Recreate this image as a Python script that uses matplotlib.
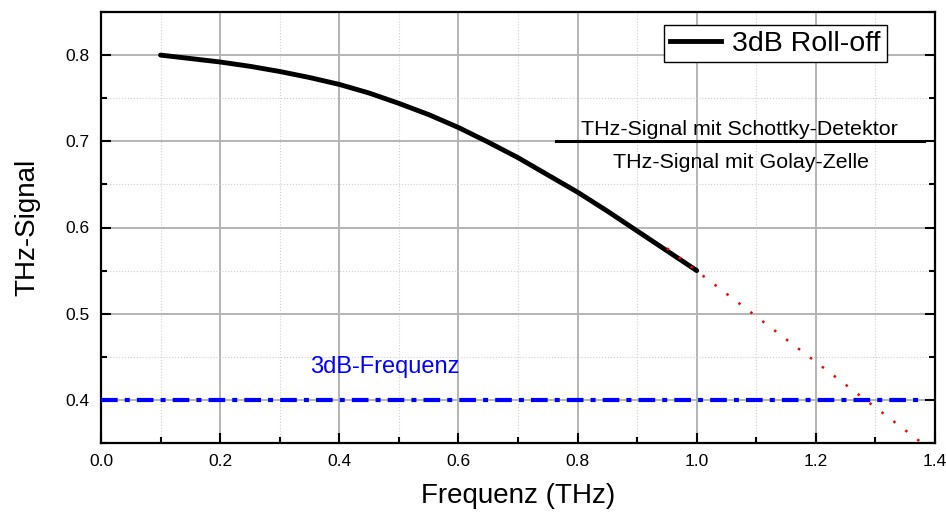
import matplotlib
matplotlib.use("Agg")
import matplotlib.pyplot as plt
from matplotlib.ticker import MultipleLocator, FormatStrFormatter
from matplotlib.lines import Line2D

plt.rcParams['font.family'] = ['Liberation Sans', 'DejaVu Sans']

# Measured roll-off curve
freq = [0.10, 0.15, 0.20, 0.25, 0.30, 0.35, 0.40, 0.45, 0.50, 0.55,
        0.60, 0.65, 0.70, 0.75, 0.80, 0.85, 0.90, 0.95, 1.00]
signal = [0.800, 0.796, 0.792, 0.787, 0.781, 0.774, 0.766, 0.756, 0.744,
          0.731, 0.716, 0.699, 0.681, 0.661, 0.641, 0.619, 0.596, 0.573, 0.550]

# Linear extrapolation of the roll-off
extrap_freq = [0.95, 1.38]
extrap_signal = [0.576, 0.349]

# 3 dB level
level_freq = [0.0, 1.38]
level_signal = [0.40, 0.40]

# Fraction bar annotation
frac_freq = [0.764, 1.382]
frac_signal = [0.70, 0.70]

fig = plt.figure(figsize=(9.46, 5.15), dpi=100)
ax = fig.add_axes([101/946, 1 - 443/515, (935-101)/946, (443-12)/515])

ax.set_xlim(0.0, 1.4)
ax.set_ylim(0.35, 0.85)
ax.xaxis.set_major_locator(MultipleLocator(0.2))
ax.xaxis.set_minor_locator(MultipleLocator(0.1))
ax.yaxis.set_major_locator(MultipleLocator(0.1))
ax.yaxis.set_minor_locator(MultipleLocator(0.05))
ax.xaxis.set_major_formatter(FormatStrFormatter('%.1f'))
ax.yaxis.set_major_formatter(FormatStrFormatter('%.1f'))

ax.grid(which='major', color='#b4b4b4', linewidth=1.4, linestyle='-')
ax.grid(which='minor', color='#cfcfcf', linewidth=0.8, linestyle=':')
ax.set_axisbelow(True)

ax.tick_params(which='both', direction='in', top=False, right=True,
               width=1.5, labelsize=12.5, pad=8)
ax.tick_params(which='major', length=7)
ax.tick_params(which='minor', length=4)
for s in ax.spines.values():
    s.set_linewidth(1.6)

ax.plot(level_freq, level_signal, color='#0000ff', linewidth=3,
        linestyle=(0, (4, 1.7, 1.2, 1.7)), zorder=3)
ax.plot(freq, signal, color='black', linewidth=3.5, solid_capstyle='round',
        solid_joinstyle='round', zorder=4)
ax.plot(extrap_freq, extrap_signal, color='red', linewidth=1.8,
        linestyle=(0, (1, 5)), zorder=5, clip_on=True)
ax.plot(frac_freq, frac_signal, color='black', linewidth=2.2, zorder=4)

ax.text(1.071, 0.714, 'THz-Signal mit Schottky-Detektor', ha='center',
        va='center', fontsize=15.4)
ax.text(1.074, 0.675, 'THz-Signal mit Golay-Zelle', ha='center',
        va='center', fontsize=15.4)
ax.text(0.477, 0.438, '3dB-Frequenz', ha='center', va='center',
        fontsize=17, color='#0000ff')

ax.set_xlabel('Frequenz (THz)', fontsize=20, labelpad=10)
ax.set_ylabel('THz-Signal', fontsize=20, labelpad=18)

handle = Line2D([], [], color='black', linewidth=3.5)
leg = ax.legend([handle], ['3dB Roll-off'], loc='upper right',
                bbox_to_anchor=(0.942, 0.97), borderaxespad=0,
                fontsize=20.5, fancybox=False,
                framealpha=1, edgecolor='black', handlelength=1.8,
                borderpad=0.2, handletextpad=0.4)
leg.get_frame().set_linewidth(1.0)

fig.savefig('out.png', dpi=100)
